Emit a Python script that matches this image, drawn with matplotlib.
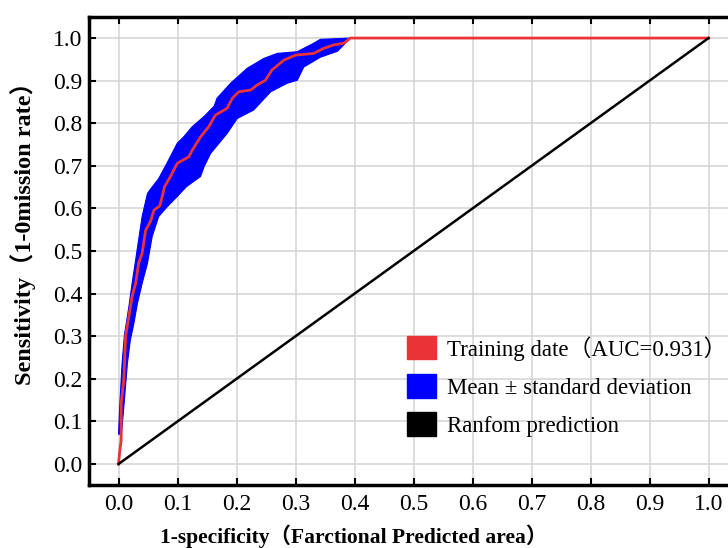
# ROC curve with mean +/- std band

import numpy as np
import matplotlib.pyplot as plt
from matplotlib.patches import Patch

# mean ROC curve (training data)
mean_fpr = [0.0, 0.002, 0.0045, 0.0045, 0.009, 0.012, 0.0175, 0.023, 0.029, 0.034,
            0.040, 0.046, 0.054, 0.060, 0.070, 0.078, 0.088, 0.0995, 0.119, 0.125,
            0.139, 0.153, 0.164, 0.184, 0.193, 0.204, 0.224, 0.235, 0.249, 0.260,
            0.280, 0.300, 0.331, 0.348, 0.365, 0.382, 0.393, 1.0]
mean_tpr = [0.0, 0.03, 0.056, 0.142, 0.20, 0.30, 0.346, 0.393, 0.424, 0.471,
            0.495, 0.549, 0.569, 0.596, 0.606, 0.651, 0.675, 0.706, 0.721, 0.737,
            0.768, 0.792, 0.819, 0.835, 0.859, 0.874, 0.878, 0.890, 0.901, 0.925,
            0.948, 0.960, 0.964, 0.976, 0.984, 0.988, 1.0, 1.0]

# upper (left) edge of the std band
upper_fpr = [0.0, 0.002, 0.006, 0.010, 0.0175, 0.023, 0.029, 0.034, 0.040, 0.049,
             0.054, 0.068, 0.082, 0.0995, 0.111, 0.125, 0.145, 0.162, 0.167, 0.190,
             0.218, 0.246, 0.269, 0.303, 0.331, 0.342, 0.393]
upper_tpr = [0.07, 0.135, 0.236, 0.303, 0.369, 0.424, 0.479, 0.526, 0.581, 0.635,
             0.645, 0.670, 0.706, 0.753, 0.769, 0.792, 0.816, 0.840, 0.859, 0.894,
             0.929, 0.952, 0.964, 0.968, 0.988, 0.997, 1.0]

# lower (right) edge of the std band
lower_fpr = [0.005, 0.009, 0.015, 0.020, 0.026, 0.032, 0.040, 0.049, 0.057, 0.068,
             0.0825, 0.0995, 0.115, 0.139, 0.145, 0.156, 0.184, 0.201, 0.229, 0.258,
             0.286, 0.303, 0.314, 0.342, 0.371, 0.393]
lower_tpr = [0.07, 0.135, 0.236, 0.291, 0.330, 0.377, 0.424, 0.471, 0.534, 0.581,
             0.604, 0.628, 0.651, 0.675, 0.698, 0.729, 0.776, 0.811, 0.831, 0.874,
             0.894, 0.901, 0.932, 0.955, 0.969, 1.0]

random_x = [0.0, 1.0]
random_y = [0.0, 1.0]

ticks = [0.0, 0.1, 0.2, 0.3, 0.4, 0.5, 0.6, 0.7, 0.8, 0.9, 1.0]
tick_labels = ["0.0", "0.1", "0.2", "0.3", "0.4", "0.5", "0.6", "0.7", "0.8", "0.9", "1.0"]

labels = ["Training date\uff08AUC=0.931\uff09", "Mean \u00b1 standard deviation", "Ranfom prediction"]

RED = "#ea3336"
BLUE = "#0000ff"
fonts = ["Liberation Serif", "Noto Sans CJK SC", "DejaVu Sans"]

plt.rcParams["font.family"] = fonts

fig = plt.figure(figsize=(7.28, 5.48), dpi=100)
ax = fig.add_axes([0.1223, 0.1144, 0.8915, 0.855])

band_x = np.concatenate([upper_fpr, lower_fpr[::-1]])
band_y = np.concatenate([upper_tpr, lower_tpr[::-1]])
ax.fill(band_x, band_y, color=BLUE, lw=0.8, zorder=2)
ax.plot(mean_fpr, mean_tpr, color=RED, lw=2.0, zorder=3)
ax.plot(random_x, random_y, color="black", lw=1.8, zorder=3)

ax.set_xlim(-0.05, 1.05)
ax.set_ylim(-0.05, 1.05)
ax.set_xticks(ticks)
ax.set_xticklabels(tick_labels)
ax.set_yticks(ticks)
ax.set_yticklabels(tick_labels)
ax.grid(True, color="#d3d3d3", lw=1.1, zorder=0)
ax.set_axisbelow(True)
ax.tick_params(direction="in", length=5, width=1.5, top=True, labelsize=17)
ax.tick_params(axis="x", pad=6)
ax.tick_params(axis="y", pad=5)
for s in ax.spines.values():
    s.set_linewidth(2.5)

ax.set_xlabel("1-specificity\uff08Farctional Predicted area\uff09", fontsize=15.5,
              fontweight="bold")
ax.set_ylabel("Sensitivity\uff081-0mission rate\uff09", fontsize=17.5,
              fontweight="bold")
ax.xaxis.set_label_coords(0.408, -0.083)
ax.yaxis.set_label_coords(-0.082, 0.55)

handles = [Patch(color=RED), Patch(color=BLUE), Patch(color="black")]
fig.legend(handles, labels, loc="upper left", bbox_to_anchor=(0.559, 0.387),
           frameon=False, fontsize=16.5, handlelength=1.27, handleheight=1.19,
           handletextpad=0.47, labelspacing=0.6, borderpad=0, borderaxespad=0)

fig.savefig("out.png", dpi=100)
